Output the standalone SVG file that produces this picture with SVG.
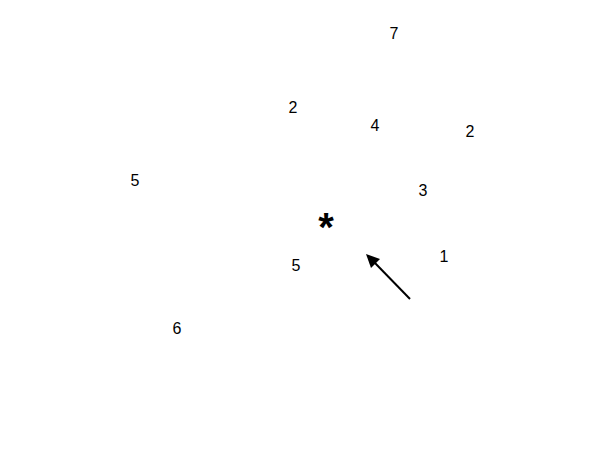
<svg xmlns="http://www.w3.org/2000/svg" width="600" height="454" viewBox="0 0 600 454">
<style>
text{font-family:"Liberation Sans",Arial,sans-serif;font-size:16px;fill:#000;text-anchor:middle}
.star{font-size:40px;font-weight:bold}
</style>
<rect width="600" height="454" fill="#fff"/>
<g id="n7"><text x="394" y="39">7</text></g>
<g id="n2a"><text x="293" y="113">2</text></g>
<g id="n4"><text x="375" y="131">4</text></g>
<g id="n2b"><text x="470" y="137">2</text></g>
<g id="n5a"><text x="135" y="186">5</text></g>
<g id="n3"><text x="423" y="196">3</text></g>
<g id="star"><text class="star" x="326" y="241">*</text></g>
<g id="n1"><text x="444" y="262">1</text></g>
<g id="n5b"><text x="296" y="271">5</text></g>
<g id="n6"><text x="177" y="334">6</text></g>
<g id="connectors">
<line x1="410" y1="299" x2="374" y2="262" stroke="#000" stroke-width="2"/>
<polygon points="366,254 380,259 371,268" fill="#000"/>
</g>
</svg>
